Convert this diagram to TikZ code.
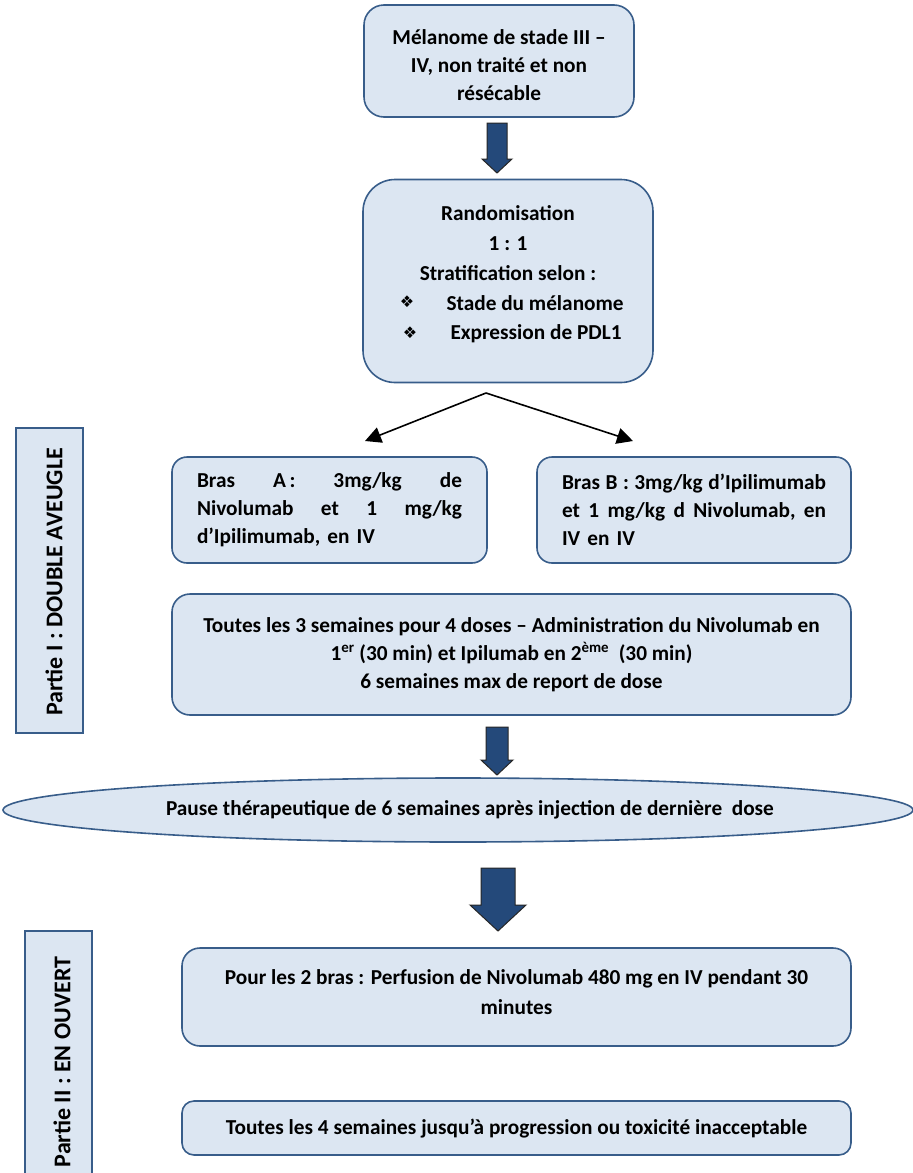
\documentclass[tikz,border=0pt]{standalone}
\usepackage{fontspec}
\setmainfont{Carlito}
\newfontfamily\dejavu{DejaVu Sans}
\usetikzlibrary{shapes.geometric,arrows.meta}
\definecolor{boxfill}{HTML}{DCE6F2}
\definecolor{boxdraw}{HTML}{385D8A}
\definecolor{arrfill}{HTML}{24497A}
\newcommand{\blockarrow}[6]{% cx, ytop, yhead, ytip, shaft half, head half
  \fill[arrfill,draw=black!85,line width=1pt] (#1-#5,#2) -- (#1+#5,#2) -- (#1+#5,#3) -- (#1+#6,#3) -- (#1,#4) -- (#1-#6,#3) -- (#1-#5,#3) -- cycle;}
\begin{document}
\begin{tikzpicture}[x=1pt,y=-1pt,
  txt/.style={font=\bfseries\fontsize{21.3}{28}\selectfont},
  sidetxt/.style={font=\bfseries\fontsize{24}{28}\selectfont},
  rbox/.style={draw=boxdraw, fill=boxfill, line width=1.6pt, rounded corners=#1, txt, inner sep=0pt},
  sidebox/.style={draw=boxdraw, fill=boxfill, line width=1.8pt, inner sep=0pt},
  bullet/.style={font=\dejavu\fontsize{16}{16}\selectfont},
  splitarrow/.style={line width=1.6pt, -{Triangle[length=16pt,width=16pt]}}]
\useasboundingbox (0,0) rectangle (913,1173);

% top box
\node[rbox=20, minimum width=270pt, minimum height=112pt] (top) at (499,61) {};
\node[txt, align=center] (topt) at (499,65)
  {Mélanome de stade III –\\IV, non traité et non\\résécable};
\blockarrow{497}{123}{159}{173}{10}{15}

% randomisation
\node[rbox=32, minimum width=290pt, minimum height=203pt] (rand) at (508,281) {};
\node[txt] (r1) at (508,213) {Randomisation};
\node[txt] (r2) at (508,244) {1 : 1};
\node[txt] (r3) at (508,273) {Stratification selon :};
\node[bullet] (b1) at (407,302) {❖};
\node[txt, anchor=west] (r4) at (443,303) {Stade du mélanome};
\node[bullet] (b2) at (410,333) {❖};
\node[txt, anchor=west] (r5) at (447,334) {Expression de PDL1};

\coordinate (apex) at (486,393);
\coordinate (tipA) at (365,441);
\coordinate (tipB) at (633,441);
\draw[splitarrow] (apex) -- (tipA);
\draw[splitarrow] (apex) -- (tipB);

% arms
\node[rbox=15, minimum width=315pt, minimum height=106pt, align=left, text width=265pt] (armA) at (329.5,510)
  {\makebox[265pt][l]{Bras\hfill A\,:\hfill 3mg/kg\hfill de}\\\makebox[265pt][l]{Nivolumab\hfill et\hfill 1\hfill mg/kg}\\d’Ipilimumab, en IV};
\node[rbox=15, minimum width=314pt, minimum height=106pt, align=left, text width=264pt] (armB) at (694,510)
  {\makebox[264pt][l]{Bras\hfill B\hfill :\hfill 3mg/kg\hfill d’Ipilimumab}\\\makebox[264pt][l]{et\hfill 1\hfill mg/kg\hfill d\hfill Nivolumab,\hfill en}\\IV en IV};

% schedule
\node[rbox=18, minimum width=679pt, minimum height=121pt, align=center] (sched) at (511.5,654.5)
  {Toutes les 3 semaines pour 4 doses – Administration du Nivolumab en\\1\textsuperscript{er} (30 min) et Ipilumab en 2\textsuperscript{ème}\ \ (30 min)\\6 semaines max de report de dose};

\node[sidebox, minimum width=67pt, minimum height=305pt] (side1) at (49.5,580.5) {};
\node[sidetxt, rotate=90] (side1t) at (54,582) {Partie I : DOUBLE AVEUGLE};

\blockarrow{497}{727}{760}{775}{11}{16}

% pause
\node[ellipse, draw=boxdraw, fill=boxfill, line width=1.6pt, minimum width=910pt, minimum height=64pt, inner sep=0pt] (pause) at (458,810) {};
\node[txt] (pauset) at (470,810) {Pause thérapeutique de 6 semaines après injection de dernière\ \ dose};

\blockarrow{498}{868}{905}{931}{17}{28}

% part II
\node[sidebox, minimum width=67pt, minimum height=250pt] (side2) at (58.5,1056) {};
\node[sidetxt, rotate=90] (side2t) at (62,1062) {Partie II : EN OUVERT};

\node[rbox=18, minimum width=669pt, minimum height=98pt] (perf) at (516.5,997) {};
\node[txt, align=center, font=\bfseries\fontsize{21.3}{30}\selectfont] (perft) at (516.5,992)
  {Pour les 2 bras : Perfusion de Nivolumab 480 mg en IV pendant 30\\minutes};
\node[rbox=12, minimum width=669pt, minimum height=54pt] (tous) at (516.5,1128) {};
\node[txt] (toust) at (516.5,1129)
  {Toutes les 4 semaines jusqu’à progression ou toxicité inacceptable};
\end{tikzpicture}
\end{document}
